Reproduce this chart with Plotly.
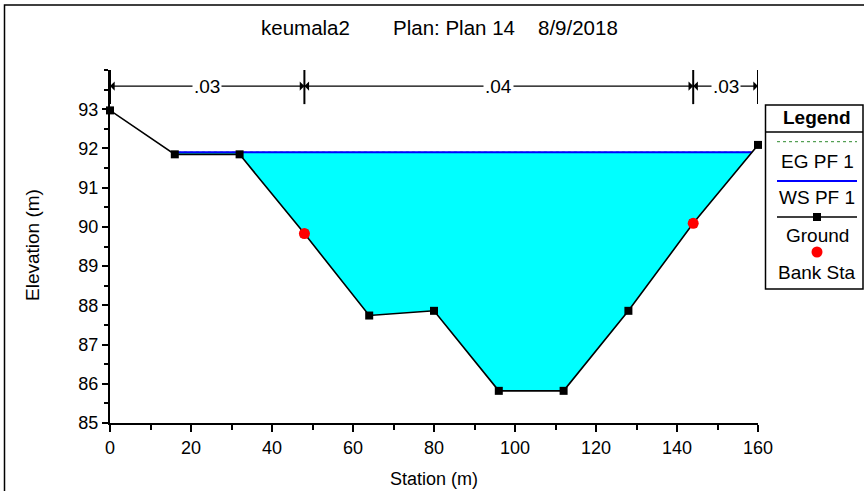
import plotly.graph_objects as go

# ---------------- data ----------------
station = [0, 16, 32, 48, 64, 80, 96, 112, 128, 144, 160]
ground = [92.97, 91.85, 91.85, 89.83, 87.74, 87.86, 85.82, 85.82, 87.86, 90.09, 92.09]
ws_elev = 91.9
eg_elev = 91.905
bank_sta = [48, 144]
bank_elev = [89.83, 90.09]
n_bounds = [0, 48, 144, 160]
n_labels = [".03", ".04", ".03"]
x_ticks = [0, 20, 40, 60, 80, 100, 120, 140, 160]
y_ticks = [85, 86, 87, 88, 89, 90, 91, 92, 93]
title_parts = ["keumala2", "Plan: Plan 14", "8/9/2018"]
legend_items = ["EG PF 1", "WS PF 1", "Ground", "Bank Sta"]

FONT = "Liberation Sans, Arial, sans-serif"
FS = 18
W, H = 864, 491
L, R, T, B = 110, 106, 70, 68
PW, PH = W - L - R, H - T - B


def px(X):
    return (X - L) / PW


def py(Y):
    return (H - B - Y) / PH


# water surface extent: intersections of WS with ground
def crossings(xs, ys, level):
    pts = []
    for i in range(len(xs) - 1):
        y0, y1 = ys[i], ys[i + 1]
        if (y0 - level) * (y1 - level) < 0:
            t = (level - y0) / (y1 - y0)
            pts.append(xs[i] + t * (xs[i + 1] - xs[i]))
    return pts


cr = crossings(station, ground, ws_elev)
xl, xr = cr[0], cr[-1]
fx = [xl] + [s for s in station if xl < s < xr] + [xr]
fy = [ws_elev] + [g for s, g in zip(station, ground) if xl < s < xr] + [ws_elev]

fig = go.Figure()
fig.add_trace(go.Scatter(x=fx, y=fy, fill="toself", fillcolor="#00FFFF",
                         mode="lines", line=dict(width=0), showlegend=False,
                         hoverinfo="skip"))
fig.add_trace(go.Scatter(x=[xl, xr], y=[eg_elev, eg_elev], mode="lines",
                         line=dict(color="#2E8B2E", width=1, dash="dot"),
                         showlegend=False))
fig.add_trace(go.Scatter(x=[xl, xr], y=[ws_elev, ws_elev], mode="lines",
                         line=dict(color="#0000FF", width=2), showlegend=False))
fig.add_trace(go.Scatter(x=station, y=ground, mode="lines+markers",
                         line=dict(color="black", width=1.6),
                         marker=dict(symbol="square", size=8, color="black"),
                         cliponaxis=False, showlegend=False))
fig.add_trace(go.Scatter(x=bank_sta, y=bank_elev, mode="markers",
                         marker=dict(symbol="circle", size=11, color="#FF0000"),
                         cliponaxis=False, showlegend=False))

shapes = []
annotations = []


def ann(size=FS, **kw):
    d = dict(showarrow=False, xanchor="center", yanchor="middle",
             font=dict(family=FONT, size=size, color="black"))
    d.update(kw)
    annotations.append(d)


# Manning's n bars and arrows
y_arrow = 93.59
for b in n_bounds:
    shapes.append(dict(type="line", xref="x", yref="y", x0=b, x1=b, y0=93.13,
                       y1=94.0, line=dict(color="black", width=2)))
for i, lab in enumerate(n_labels):
    a, b = n_bounds[i], n_bounds[i + 1]
    mid = (a + b) / 2
    for end in (a, b):
        annotations.append(dict(x=end, y=y_arrow, xref="x", yref="y", text="",
                                showarrow=True, ax=mid, ay=y_arrow, axref="x",
                                ayref="y", arrowhead=1, arrowsize=1.3,
                                arrowwidth=1.2, arrowcolor="black"))
for i, lab in enumerate(n_labels):
    a, b = n_bounds[i], n_bounds[i + 1]
    mid = (a + b) / 2
    ann(size=19, x=mid, y=y_arrow, xref="x", yref="y", text=lab,
        bgcolor="white", borderpad=1)

# Title pieces
for txt, X in zip(title_parts, [305, 454, 578]):
    ann(size=20.5, x=px(X), y=py(28), xref="paper", yref="paper", text=txt)

# Outer frame
shapes.append(dict(type="rect", xref="paper", yref="paper", x0=px(4.5),
                   x1=px(900), y0=py(600), y1=py(5),
                   line=dict(color="black", width=1.5)))

# Custom legend
lx0, lx1, ly0, ly1 = 765.5, 863, 105, 289
shapes.append(dict(type="rect", xref="paper", yref="paper", x0=px(lx0),
                   x1=px(lx1), y0=py(ly1), y1=py(ly0),
                   line=dict(color="black", width=1.5), fillcolor="white",
                   layer="below"))
shapes.append(dict(type="line", xref="paper", yref="paper", x0=px(lx0),
                   x1=px(lx1), y0=py(132), y1=py(132),
                   line=dict(color="black", width=1.5)))
sx0, sx1, cx = 777, 857, 817
shapes.append(dict(type="line", xref="paper", yref="paper", x0=px(sx0),
                   x1=px(sx1), y0=py(141.7), y1=py(141.7),
                   line=dict(color="#2E8B2E", width=1, dash="dot")))
shapes.append(dict(type="line", xref="paper", yref="paper", x0=px(sx0),
                   x1=px(sx1), y0=py(181), y1=py(181),
                   line=dict(color="#0000FF", width=2)))
shapes.append(dict(type="line", xref="paper", yref="paper", x0=px(sx0),
                   x1=px(sx1), y0=py(217), y1=py(217),
                   line=dict(color="black", width=1.6)))
shapes.append(dict(type="rect", xref="paper", yref="paper", x0=px(cx - 4),
                   x1=px(cx + 4), y0=py(221), y1=py(213),
                   line=dict(width=0), fillcolor="black"))
shapes.append(dict(type="circle", xref="paper", yref="paper", x0=px(cx - 5.5),
                   x1=px(cx + 5.5), y0=py(257.5), y1=py(246.5),
                   line=dict(width=0), fillcolor="#FF0000"))
ann(size=19, x=px(cx), y=py(118), xref="paper", yref="paper",
    text="<b>Legend</b>")
for txt, Y in zip(legend_items, [161, 197, 235, 272]):
    ann(size=19, x=px(cx), y=py(Y), xref="paper", yref="paper", text=txt)

# Axis titles
ann(size=18, x=px(434), y=py(479), xref="paper", yref="paper",
    text="Station (m)")
ann(size=19, x=px(32), y=py(245), xref="paper", yref="paper",
    text="Elevation (m)", textangle=-90)

axis_common = dict(showgrid=False, zeroline=False, showline=True,
                   linecolor="black", linewidth=2, ticks="outside",
                   tickwidth=1.5, tickcolor="black",
                   tickfont=dict(family=FONT, size=FS, color="black"))

fig.update_layout(
    width=W, height=H,
    margin=dict(l=L, r=R, t=T, b=B),
    paper_bgcolor="white", plot_bgcolor="white",
    shapes=shapes, annotations=annotations,
    showlegend=False,
    font=dict(family=FONT, size=FS, color="black"),
    xaxis=dict(range=[0, 160], tickvals=x_ticks,
               ticktext=[str(v) for v in x_ticks], ticklen=7,
               minor=dict(dtick=10, ticks="outside", ticklen=5, tickwidth=1.5,
                          tickcolor="black", showgrid=False),
               **axis_common),
    yaxis=dict(range=[85, 94], tickvals=y_ticks,
               ticktext=[str(v) for v in y_ticks], ticklen=6,
               minor=dict(dtick=0.5, ticks="outside", ticklen=4, tickwidth=1.5,
                          tickcolor="black", showgrid=False),
               **axis_common),
)

fig.write_html("out.html", config={"displayModeBar": False},
               post_script="document.body.style.margin='0';")
